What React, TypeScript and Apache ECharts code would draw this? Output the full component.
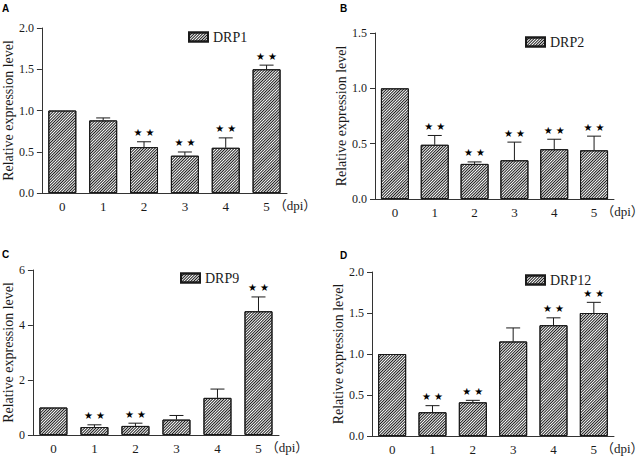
import React, { useEffect, useRef } from "react";
import * as echarts from "echarts";

const categories = ["0", "1", "2", "3", "4", "5"];

const namesList = ["DRP1", "DRP2", "DRP9", "DRP12"];
const panelLetters = ["A", "B", "C", "D"];

const meanA = [1.0, 0.88, 0.556, 0.452, 0.548, 1.5];
const errA = [0, 0.03, 0.065, 0.045, 0.12, 0.05];
const sigA = [0, 0, 1, 1, 1, 1];

const meanB = [1.0, 0.49, 0.317, 0.35, 0.45, 0.44];
const errB = [0, 0.084, 0.018, 0.164, 0.09, 0.128];
const sigB = [0, 1, 1, 1, 1, 1];

const meanC = [1.0, 0.29, 0.33, 0.56, 1.35, 4.5];
const errC = [0, 0.08, 0.1, 0.15, 0.32, 0.52];
const sigC = [0, 1, 1, 0, 0, 1];

const meanD = [1.0, 0.29, 0.411, 1.153, 1.351, 1.5];
const errD = [0, 0.08, 0.024, 0.165, 0.09, 0.13];
const sigD = [0, 1, 1, 0, 1, 1];

const yMax = [2, 1.5, 6, 2];
const yInterval = [0.5, 0.5, 2, 0.5];
const yDecimals = [1, 1, 0, 1];

const means = [meanA, meanB, meanC, meanD];
const errs = [errA, errB, errC, errD];
const sigs = [sigA, sigB, sigC, sigD];

const SERIF = "Liberation Serif";
const AXIS_COLOR = "#333";
const TEXT_COLOR = "#1a1a1a";

const grids = [
  { left: 39, top: 28, width: 248, height: 165 },
  { left: 375, top: 33, width: 249, height: 166 },
  { left: 31, top: 270, width: 248, height: 165 },
  { left: 372, top: 272, width: 249, height: 165 },
];
const nameGaps = [25, 25, 17, 20];
const legendPos = [
  { left: 188, top: 30 },
  { left: 525, top: 35 },
  { left: 180, top: 271 },
  { left: 525, top: 273 },
];
const letterPos = [
  { x: 2, y: 3 },
  { x: 340, y: 3 },
  { x: 2, y: 249 },
  { x: 340, y: 250 },
];

export default function App() {
  const ref = useRef<HTMLDivElement>(null);
  useEffect(() => {
    if (!ref.current) return;
    const chart = echarts.init(ref.current, null, { renderer: "svg" });

    const decal = {
      symbol: "rect",
      symbolSize: 1,
      dashArrayX: [1, 0],
      dashArrayY: [1, 1],
      rotation: -Math.PI / 4,
      color: "#1a1a1a",
    };

    const xAxes = grids.map((_, k) => ({
      type: "category",
      gridIndex: k,
      data: categories,
      boundaryGap: true,
      axisLine: { lineStyle: { color: AXIS_COLOR, width: 1 } },
      axisTick: { alignWithLabel: true, length: 4, lineStyle: { color: AXIS_COLOR } },
      axisLabel: { color: TEXT_COLOR, fontFamily: SERIF, fontSize: 13, margin: 7 },
      name: "（dpi）",
      nameLocation: "end",
      nameGap: -17,
      nameTextStyle: {
        color: TEXT_COLOR,
        fontFamily: "Liberation Serif, Noto Sans CJK SC",
        fontSize: 13,
        align: "left",
        verticalAlign: "top",
        padding: [6, 0, 0, 0],
      },
      splitLine: { show: false },
    }));

    const yAxes = grids.map((_, k) => ({
      type: "value",
      gridIndex: k,
      min: 0,
      max: yMax[k],
      interval: yInterval[k],
      axisLine: { show: true, lineStyle: { color: AXIS_COLOR, width: 1 } },
      axisTick: { show: true, length: 5, lineStyle: { color: AXIS_COLOR } },
      axisLabel: {
        color: TEXT_COLOR,
        fontFamily: SERIF,
        fontSize: 12,
        margin: 8,
        formatter: (v: number) => v.toFixed(yDecimals[k]),
      },
      splitLine: { show: false },
      name: "Relative expression level",
      nameLocation: "middle",
      nameGap: nameGaps[k],
      nameRotate: 90,
      nameTextStyle: { color: TEXT_COLOR, fontFamily: SERIF, fontSize: 14 },
    }));

    const series: any[] = [];
    grids.forEach((_, k) => {
      series.push({
        type: "bar",
        name: namesList[k],
        xAxisIndex: k,
        yAxisIndex: k,
        data: means[k],
        barWidth: 28,
        itemStyle: { color: "#ffffff", borderColor: "#1a1a1a", borderWidth: 1, decal },
        z: 2,
      });
      series.push({
        type: "custom",
        xAxisIndex: k,
        yAxisIndex: k,
        z: 3,
        data: means[k].map((m, i) => [i, m, errs[k][i], sigs[k][i]]),
        encode: { x: 0, y: 1 },
        renderItem: (params: any, api: any) => {
          const i = api.value(0);
          const m = api.value(1);
          const e = api.value(2);
          const s = api.value(3);
          const base = api.coord([i, m]);
          const top = api.coord([i, m + e]);
          const children: any[] = [];
          const st = { stroke: "#1a1a1a", lineWidth: 1 };
          if (e > 0) {
            children.push({
              type: "line",
              shape: { x1: top[0], y1: base[1], x2: top[0], y2: top[1] },
              style: st,
            });
            children.push({
              type: "line",
              shape: { x1: top[0] - 7, y1: top[1], x2: top[0] + 7, y2: top[1] },
              style: st,
            });
          }
          if (s) {
            [-6, 6].forEach((dx) => {
              children.push({
                type: "text",
                x: top[0] + dx,
                y: top[1] - 9,
                style: {
                  text: "★",
                  fill: "#000",
                  fontSize: 10,
                  fontFamily: "DejaVu Sans",
                  align: "center",
                  verticalAlign: "middle",
                },
              });
            });
          }
          return { type: "group", children };
        },
      });
    });

    chart.setOption({
      animation: false,
      backgroundColor: "#ffffff",
      grid: grids.map((g) => ({ ...g, containLabel: false })),
      xAxis: xAxes,
      yAxis: yAxes,
      legend: grids.map((_, k) => ({
        data: [namesList[k]],
        left: legendPos[k].left,
        top: legendPos[k].top,
        padding: 0,
        itemWidth: 19,
        itemHeight: 9,
        itemGap: 6,
        icon: "rect",
        textStyle: { color: TEXT_COLOR, fontFamily: SERIF, fontSize: 14 },
        selectedMode: false,
      })),
      graphic: panelLetters.map((t, k) => ({
        type: "text",
        left: letterPos[k].x,
        top: letterPos[k].y,
        style: {
          text: t,
          fill: "#000",
          fontFamily: "Liberation Sans",
          fontWeight: "bold",
          fontSize: 10,
        },
      })),
      series,
    });

    return () => chart.dispose();
  }, []);

  return (
    <div
      ref={ref}
      style={{ position: "fixed", left: 0, top: 0, width: 644, height: 456, background: "#fff" }}
    />
  );
}
